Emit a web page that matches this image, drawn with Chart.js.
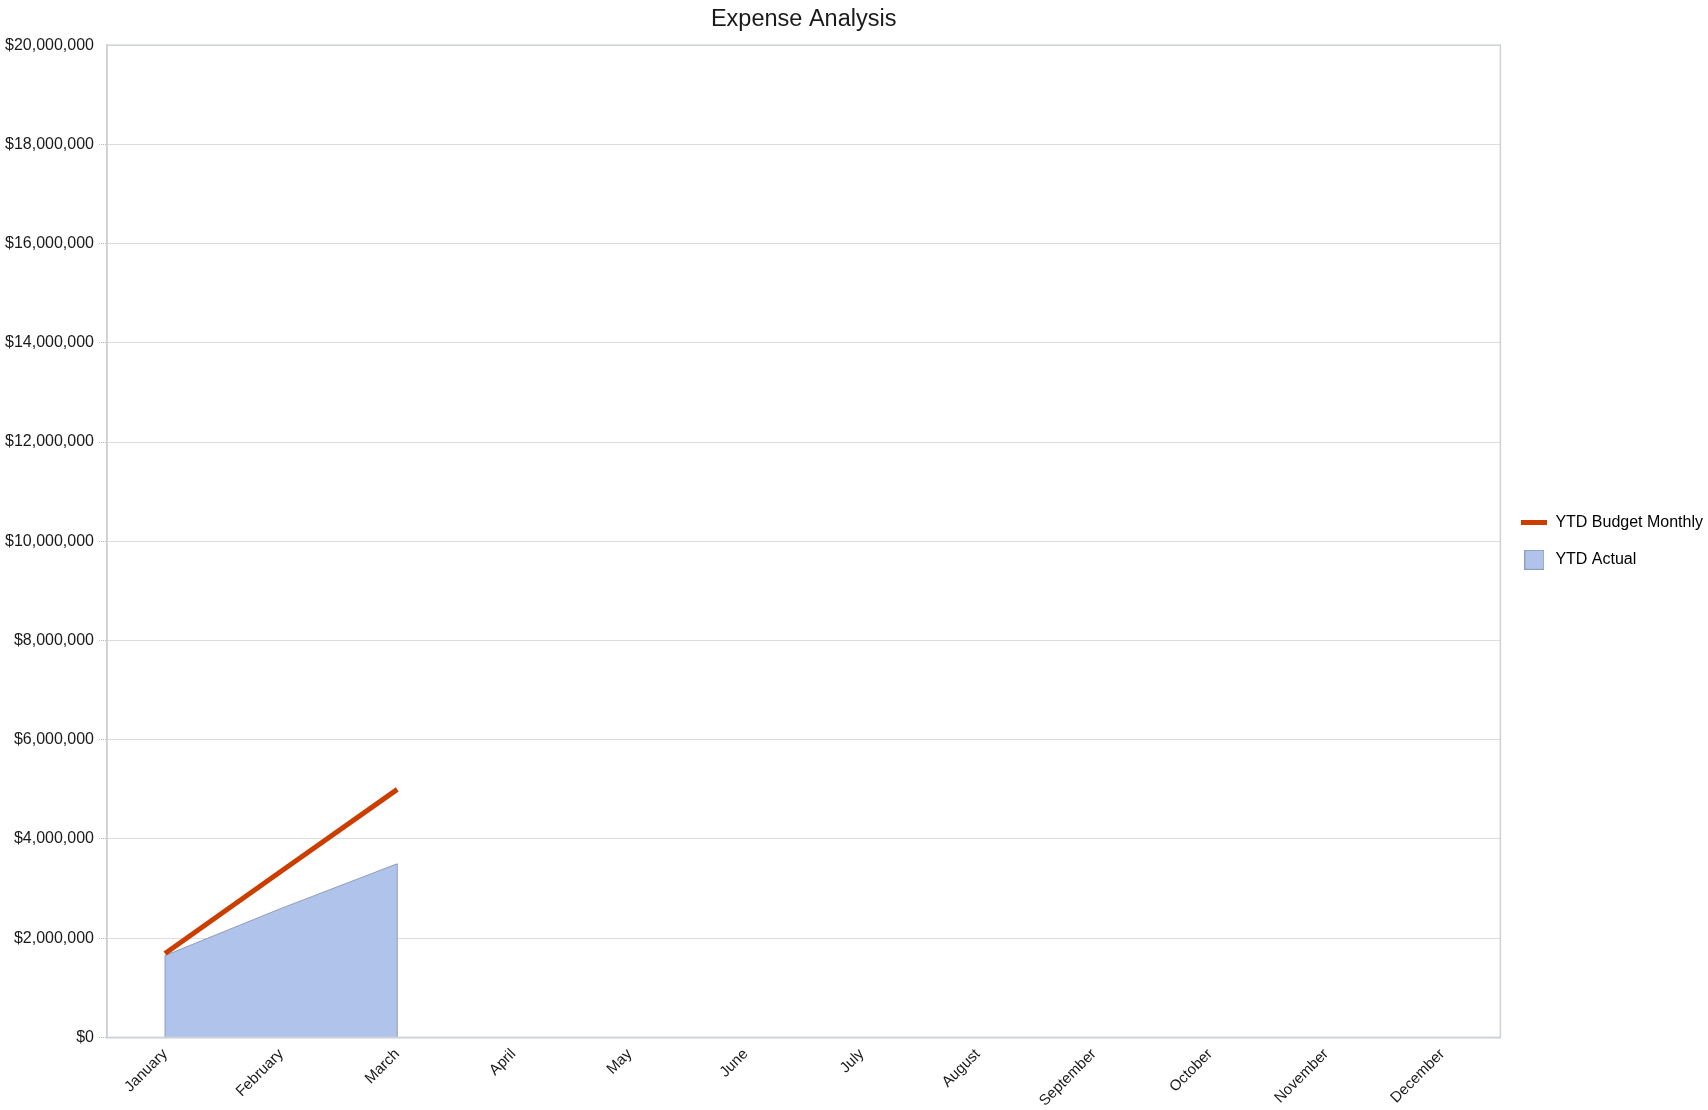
<!DOCTYPE html>
<html>
<head>
<meta charset="utf-8">
<title>Expense Analysis</title>
<script src="https://cdn.jsdelivr.net/npm/chart.js@4"></script>
<style>
    html, body { margin: 0; padding: 0; background: #fff; }
    #wrap { width: 1708px; height: 1110px; position: relative; }
</style>
</head>
<body>
<div id="wrap"><canvas id="chartGastos"></canvas></div>
<script>
// Datos del gráfico
const MONTHS = ['January', 'February', 'March', 'April', 'May', 'June',
    'July', 'August', 'September', 'October', 'November', 'December'];
const YTD_BUDGET = [1690000, 3350000, 5000000, null, null, null, null, null, null, null, null, null];
const YTD_ACTUAL = [1650000, 2600000, 3500000, null, null, null, null, null, null, null, null, null];

const COLORS = {
    budget: '#CC3D00',
    actualFill: '#B0C4EB',
    actualBorder: '#8D9BBE',
    grid: '#B4B8BE',
    frame: '#CDD2D8',
    text: '#1A1A1A'
};

const FONT = "'Liberation Sans', Arial, sans-serif";

// muestras de leyenda
function makeSwatch(w, h, draw) {
    const c = document.createElement('canvas');
    c.width = w;
    c.height = h;
    draw(c.getContext('2d'));
    return c;
}

const lineSwatch = makeSwatch(26, 5, ctx => {
    ctx.fillStyle = COLORS.budget;
    ctx.fillRect(0, 0, 26, 5);
});
const boxSwatch = makeSwatch(20, 20, ctx => {
    ctx.fillStyle = COLORS.actualFill;
    ctx.fillRect(0, 0, 20, 20);
    ctx.strokeStyle = COLORS.actualBorder;
    ctx.lineWidth = 1;
    ctx.strokeRect(0.5, 0.5, 19, 19);
});

// marco alrededor del área del gráfico
const framePlugin = {
    id: 'frame',
    afterDraw(chart) {
        const { ctx, chartArea: a } = chart;
        ctx.save();
        ctx.strokeStyle = COLORS.frame;
        ctx.lineWidth = 1.5;
        ctx.strokeRect(a.left, a.top, a.right - a.left, a.bottom - a.top);
        ctx.restore();
    }
};

// bordes verticales del área "YTD Actual" (antes de dibujar la línea del presupuesto)
const areaEdgesPlugin = {
    id: 'areaEdges',
    afterDatasetDraw(chart, args) {
        if (args.index !== 1) return;
        const pts = args.meta.data.filter(p => !p.skip);
        if (!pts.length) return;
        const base = chart.scales.y.getPixelForValue(0);
        const { ctx } = chart;
        ctx.save();
        ctx.strokeStyle = COLORS.actualBorder;
        ctx.lineWidth = 1;
        [pts[0], pts[pts.length - 1]].forEach(p => {
            ctx.beginPath();
            ctx.moveTo(p.x, p.y);
            ctx.lineTo(p.x, base);
            ctx.stroke();
        });
        ctx.restore();
    }
};

Chart.defaults.font.family = FONT;
Chart.defaults.color = COLORS.text;

new Chart(document.getElementById('chartGastos'), {
    type: 'line',
    data: {
        labels: MONTHS,
        datasets: [
            {
                label: 'YTD Budget Monthly',
                data: YTD_BUDGET,
                borderColor: COLORS.budget,
                backgroundColor: COLORS.budget,
                borderWidth: 5,
                pointRadius: 0,
                fill: false,
                tension: 0
            },
            {
                label: 'YTD Actual',
                data: YTD_ACTUAL,
                borderColor: COLORS.actualBorder,
                backgroundColor: COLORS.actualFill,
                borderWidth: 1,
                pointRadius: 0,
                fill: 'origin',
                tension: 0
            }
        ]
    },
    options: {
        responsive: true,
        maintainAspectRatio: false,
        animation: false,
        layout: { padding: { left: 0, right: -5, bottom: 0, top: 0 } },
        plugins: {
            title: {
                display: true,
                fullSize: false,
                text: 'Expense Analysis',
                color: '#1A1A1A',
                font: { size: 23.5, weight: 'normal' },
                padding: { top: 5, bottom: 12 }
            },
            legend: {
                position: 'right',
                fullSize: false,
                labels: {
                    usePointStyle: true,
                    pointStyleWidth: 26,
                    padding: 21,
                    font: { size: 16 },
                    color: COLORS.text,
                    generateLabels: chart => [
                        { text: 'YTD Budget Monthly', pointStyle: lineSwatch, datasetIndex: 0, fillStyle: COLORS.budget, strokeStyle: COLORS.budget, lineWidth: 0 },
                        { text: 'YTD Actual', pointStyle: boxSwatch, datasetIndex: 1, fillStyle: COLORS.actualFill, strokeStyle: COLORS.actualBorder, lineWidth: 0 }
                    ]
                }
            },
            tooltip: { enabled: false }
        },
        scales: {
            x: {
                offset: true,
                grid: { display: false },
                border: { color: COLORS.frame, width: 1.5 },
                ticks: {
                    maxRotation: 45,
                    minRotation: 45,
                    font: { size: 15 },
                    padding: 0
                }
            },
            y: {
                min: 0,
                max: 20000000,
                ticks: {
                    stepSize: 2000000,
                    font: { size: 16 },
                    padding: 5,
                    callback: v => '$' + v.toLocaleString('en-US')
                },
                grid: {
                    color: ctx => ctx.tick && ctx.tick.value === 20000000 ? 'rgba(0,0,0,0)' : COLORS.grid,
                    tickLength: 8,
                    tickBorderDash: [1, 1]
                },
                border: { color: COLORS.frame, width: 1.5, dash: [1, 1] }
            }
        }
    },
    plugins: [framePlugin, areaEdgesPlugin]
});
</script>
</body>
</html>
